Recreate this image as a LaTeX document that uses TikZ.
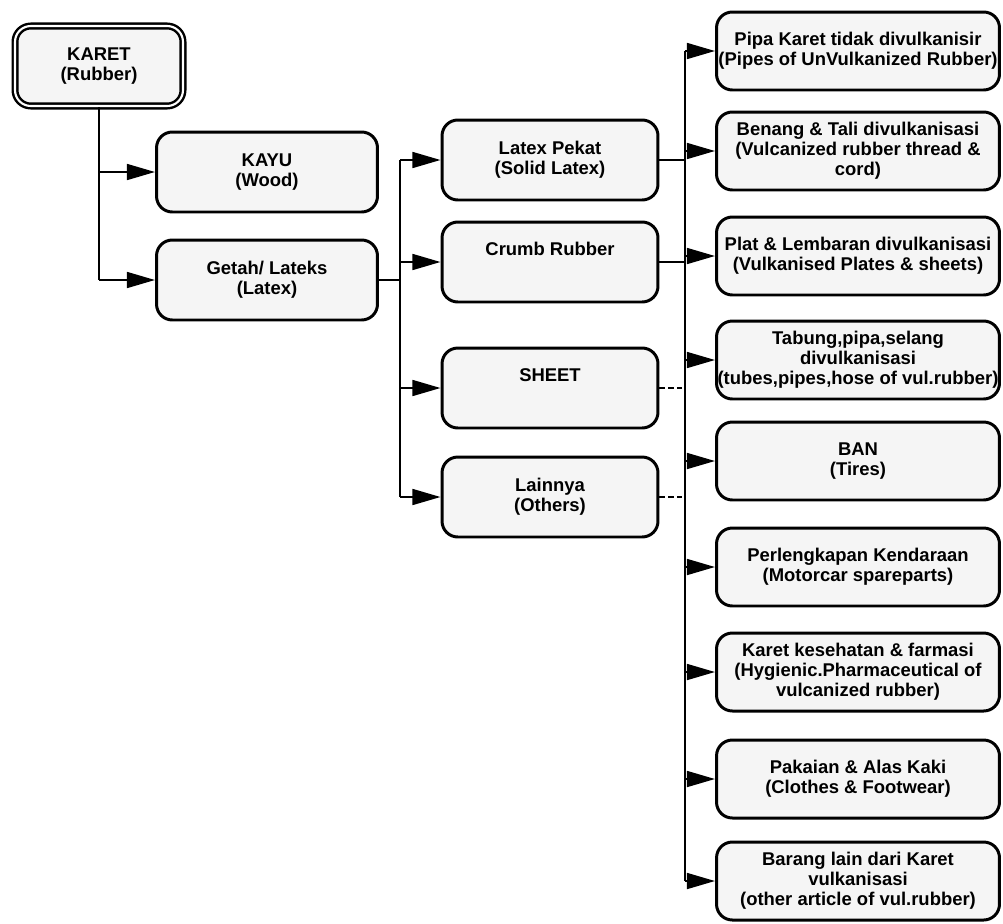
\documentclass[tikz,border=0pt]{standalone}
\usepackage{fontspec}
\setmainfont{Liberation Sans}
\usetikzlibrary{arrows.meta}
\usetikzlibrary{calc}

\begin{document}
\begin{tikzpicture}[x=0.02cm,y=-0.02cm,
  box/.style={draw=black, line width=1.7pt, rounded corners=9pt, fill=black!4, align=center,
    minimum height=1.6cm, inner xsep=0pt, inner ysep=1pt, font=\bfseries\fontsize{10.5}{11.5}\selectfont},
  boxa/.style={box, minimum width=4.42cm},
  boxb/.style={box, minimum width=4.32cm},
  boxr/.style={box, minimum width=5.66cm, minimum height=1.56cm},
  link/.style={line width=1.3pt},
  thinlink/.style={line width=0.7pt, densely dashed},
  arr/.style={link, -{Triangle[length=16pt,width=9pt]}}]
\useasboundingbox (0,0) rectangle (1003,923);

\node[box, double, line width=1.4pt, double distance=1.2pt, minimum width=3.36cm] (karet) at (99,66) {KARET\\(Rubber)};
\node[boxa] (kayu) at (267,172) {KAYU\\(Wood)};
\node[boxa] (getah) at (267,280) {Getah/ Lateks\\(Latex)};

\node[boxb] (pekat) at (550,160) {Latex Pekat\\(Solid Latex)};
\node[boxb] (crumb) at (550,262) {Crumb Rubber\\\strut};
\node[boxb] (sheet) at (550,388) {SHEET\\\strut};
\node[boxb] (lainnya) at (550,497) {Lainnya\\(Others)};

\node[boxr] (pipa) at (858,51) {Pipa Karet tidak divulkanisir\\(Pipes of UnVulkanized Rubber)};
\node[boxr] (benang) at (858,151) {Benang \& Tali divulkanisasi\\(Vulcanized rubber thread \&\\cord)};
\node[boxr] (plat) at (858,256) {Plat \& Lembaran divulkanisasi\\(Vulkanised Plates \& sheets)};
\node[boxr] (tabung) at (858,360) {Tabung,pipa,selang\\divulkanisasi\\(tubes,pipes,hose of vul.rubber)};
\node[boxr] (ban) at (858,461) {BAN\\(Tires)};
\node[boxr] (kendaraan) at (858,567) {Perlengkapan Kendaraan\\(Motorcar spareparts)};
\node[boxr] (farmasi) at (858,672) {Karet kesehatan \& farmasi\\(Hygienic.Pharmaceutical of\\vulcanized rubber)};
\node[boxr] (pakaian) at (858,779) {Pakaian \& Alas Kaki\\(Clothes \& Footwear)};
\node[boxr] (barang) at (858,881) {Barang lain dari Karet\\vulkanisasi\\(other article of vul.rubber)};

\draw[link] (karet.south) -- (karet.south |- getah.west);
\foreach \n in {kayu,getah}
  \draw[arr] (karet.south |- \n.west) -- (\n.west);

\coordinate (jb) at (400,280);
\draw[link] (getah.east) -- (jb |- getah.east);
\draw[link] (jb |- pekat.west) -- (jb |- lainnya.west);
\foreach \n in {pekat,crumb,sheet,lainnya}
  \draw[arr] (jb |- \n.west) -- (\n.west);

\coordinate (jc) at (685,0);
\draw[link] (jc |- pipa.west) -- (jc |- barang.west);
\foreach \n in {pipa,benang,plat,tabung,ban,kendaraan,farmasi,pakaian,barang}
  \draw[arr] (jc |- \n.west) -- (\n.west);
\draw[link] (pekat.east) -- (jc |- pekat.east);
\draw[link] (crumb.east) -- (jc |- crumb.east);
\draw[thinlink] (sheet.east) -- (jc |- sheet.east);
\draw[thinlink] (lainnya.east) -- (jc |- lainnya.east);
\end{tikzpicture}
\end{document}
